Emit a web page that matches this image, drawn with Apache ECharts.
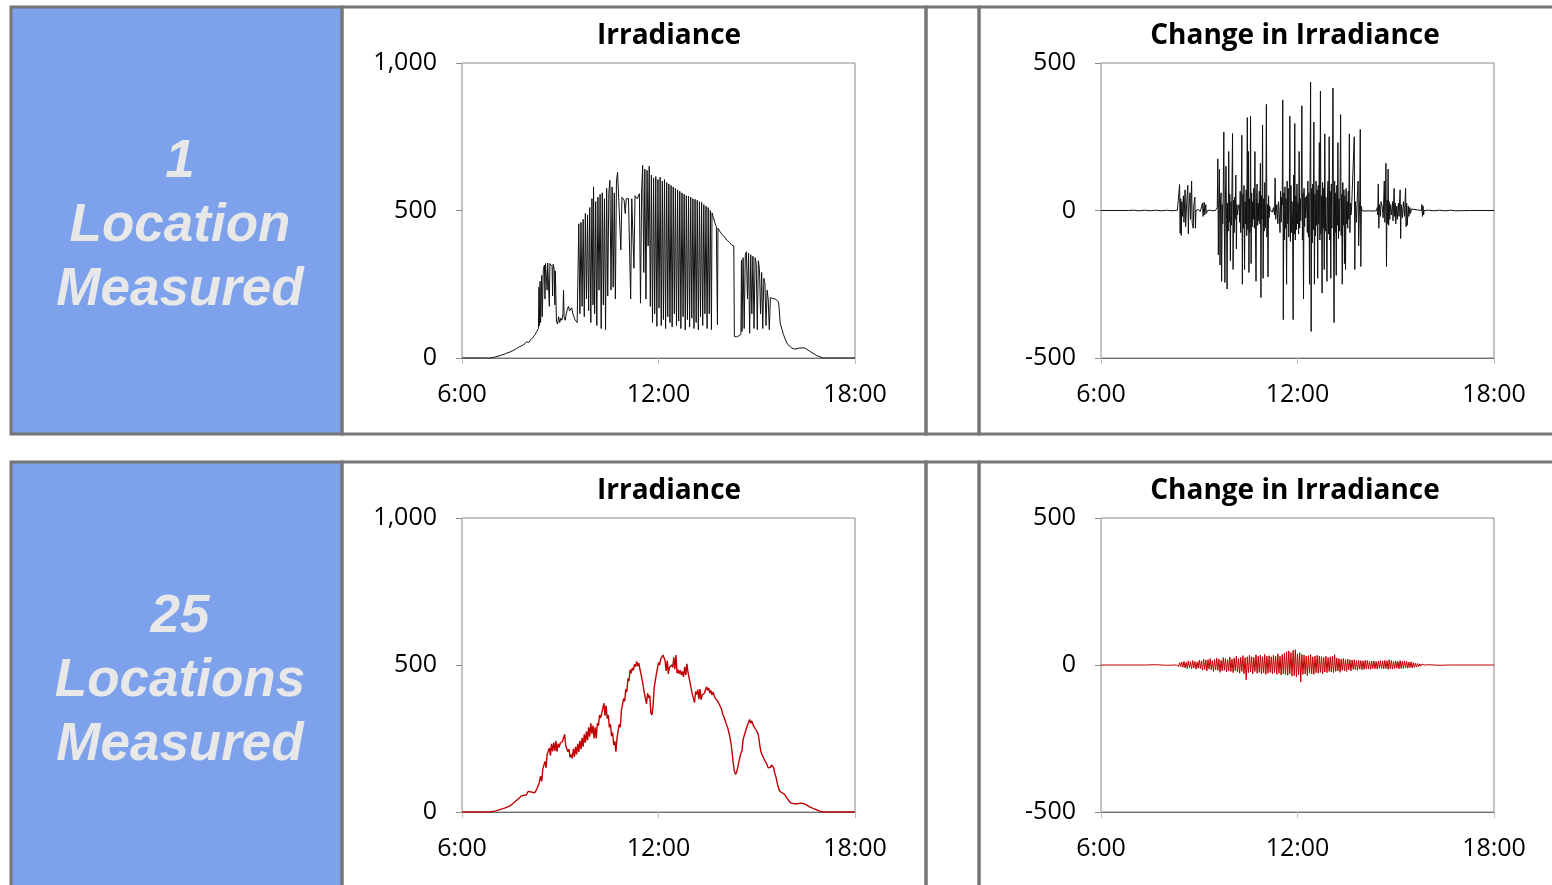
<!DOCTYPE html>
<html><head><meta charset="utf-8">
<script src="https://cdn.jsdelivr.net/npm/echarts/dist/echarts.min.js"></script>
<style>html,body{margin:0;padding:0;background:#fff;overflow:hidden}#c{width:1552px;height:885px}</style>
</head><body><div id="c"></div>
<script>
// ---------- texts / tick labels ----------
const xTickLabels = ['6:00', '12:00', '18:00'];          // at 360, 720, 1080 minutes
const irrTickLabels = ['0', '500', '1,000'];
const changeTickLabels = ['-500', '0', '500'];
const rowLabels = ['1\nLocation\nMeasured', '25\nLocations\nMeasured'];
const panelTitles = ['Irradiance', 'Change in Irradiance'];

// ---------- data: [minute of day, W/m2] ----------
const irrOneLocation = [
[360,0],[400,0],[412,0],[420,3],[430,8],[440,15],[450,22],[460,32],[465,38],[470,42],[475,48],[478,55],[482,52],[486,62],[490,70],[494,80],[497,90],[500,100],
[501,240],[502,110],[503,260],[504,120],[506,280],[507,140],[509,300],[511,315],[512,200],[513,320],[515,325],[516,230],[517,322],[519,318],[520,175],[521,320],[523,315],[525,310],[526,210],[527,318],[529,300],[530,180],[531,295],
[533,125],[535,115],[537,140],[539,120],[541,135],[543,128],[545,150],[546,230],[547,140],[549,128],[551,150],[553,165],[555,175],[557,160],[559,155],[561,170],[563,150],[565,140],[567,130],[569,125],[571,120],[573,118],
[574,455],[576,150],[578,460],[580,175],[582,470],[584,140],[586,490],[588,200],[590,485],[592,160],[594,510],[596,120],[598,540],[600,180],[601,580],[603,150],[605,530],[607,110],[609,545],[611,230],[613,555],[615,100],[617,560],[619,180],[621,540],[623,96],[625,575],[627,210],[629,560],[631,602],[633,230],[635,580],[637,240],[639,560],[641,200],[643,600],[645,630],
[647,545],[649,540],[651,366],[653,545],[655,550],[657,535],[659,490],[661,540],[663,545],[665,540],[667,545],[669,200],[671,540],[673,545],[675,304],[677,550],[679,545],[681,540],[683,545],[685,557],[687,186],[689,560],
[691,653],[693,290],[695,640],[697,200],[699,636],[701,380],[703,650],[705,175],[707,620],[709,120],[711,610],[713,150],[715,615],[717,107],[719,605],[721,170],[723,613],[725,110],[727,600],[729,130],[731,605],[733,100],[735,595],[737,140],[739,590],[741,120],[743,585],[745,105],[747,580],[749,150],[751,575],[753,110],[755,570],[757,125],[759,565],[761,100],[763,560],[765,140],[767,555],[769,95],[771,550],[773,130],[775,548],[777,105],[779,545],[781,135],[783,540],[785,100],[787,538],[789,120],[791,535],[793,95],[795,530],[797,140],[799,528],[801,110],[803,520],[805,150],[807,515],[809,100],[811,510],[813,150],[815,500],[817,96],[818,492],
[820,480],[823,460],[826,445],[828,113],[829,440],[832,430],[836,420],[840,412],[845,400],[850,392],[854,383],[857,377],[858,380],
[859,73],[861,68],[863,72],[865,70],[867,75],[869,72],[871,80],
[872,332],[873,90],[875,340],[877,100],[879,350],[881,360],[883,200],[885,355],[887,84],[889,350],[891,150],[893,345],
[895,100],[897,340],[899,320],[901,96],[903,330],[905,300],[907,150],[909,290],[911,100],[913,270],[915,253],[917,110],
[919,230],[921,200],[923,96],[925,205],[927,200],[929,202],[931,203],[934,200],[937,200],[940,190],
[943,118],[949,79],[955,51],[960,40],[964,34],[970,30],[979,34],[988,34],[998,22],[1010,8],[1022,0],[1080,0]
];

const changeOneLocation = [
[360,0],[410,0],[420,1],[430,-1],[440,1],[450,-1],[460,1],[470,-1],[480,1],[490,-1],[500,1],
[503,0],[504,88],[505,-77],[506,40],[507,-85],[508,30],[509,-20],[511,50],[512,-40],[514,70],[515,-55],[517,25],[519,85],[520,-79],[521,10],[523,60],[524,-30],[526,100],[527,-40],[529,-60],[530,20],[532,45],[533,-60],[534,0],[538,3],[542,-3],[546,25],[547,-20],[549,28],[550,-15],[552,20],[553,-10],[555,0],[560,1],[565,-1],[570,1],
[573,10],[574,175],[575,-150],[576,30],[577,140],[578,-185],[579,40],[580,60],[581,-240],[582,20],[583,-45],[584,75],[585,266],[586,-60],[587,-244],[588,40],[589,150],[590,-30],[591,-266],[592,25],[593,-70],[594,200],[595,-40],[596,55],[597,-170],[598,30],[599,-50],[600,90],[601,261],[602,-200],[603,35],[604,-75],[605,45],[606,-30],[607,120],[608,-130],[609,20],[610,-15],[611,5],[612,0],
[613,20],[614,-40],[615,65],[616,-75],[617,45],[618,255],[619,-250],[620,55],[621,-60],[622,85],[623,-200],[624,30],[625,-45],[626,70],[627,-85],[628,315],[629,-65],[630,200],[631,-210],[632,40],[633,-75],[634,320],[635,-180],[636,60],[637,-55],[638,30],[639,-30],[640,75],[641,-60],[642,200],[643,-80],[644,-240],[645,45],[646,90],[647,-50],[648,25],[649,-35],[650,65],[651,-45],[652,160],[653,-295],[654,50],[655,-30],[656,290],[657,-230],[658,40],[659,-70],[660,95],[661,-60],[662,30],[663,360],[664,-90],[665,20],[666,-225],[667,50],[668,-25],[669,15],
[670,0],[672,5],[674,-5],
[676,10],[678,-15],[679,110],[680,-30],[682,20],[684,-45],[685,30],[686,10],[688,-75],[689,65],[690,-40],[691,45],[692,20],[693,375],[694,-370],[695,60],[696,-100],[697,80],[698,-60],[699,40],[700,-250],[701,100],[702,-45],[703,75],[704,-90],[705,50],[706,320],[707,-105],[708,85],[709,-75],[710,30],[711,-50],[712,-370],[713,120],[714,-80],[715,295],[716,-100],[717,50],[718,-65],[719,90],[720,-45],[721,25],[722,-80],[723,200],[724,-60],[725,40],[726,-35],[727,70],[728,355],[729,-100],[730,60],[731,-300],[732,75],[733,-55],[734,45],[735,-25],[736,15],
[737,50],[738,-75],[739,100],[740,-90],[741,60],[742,-250],[743,130],[744,435],[745,-410],[746,75],[747,-110],[748,90],[749,-65],[750,300],[751,-250],[752,55],[753,-85],[754,100],[755,-50],[756,70],[757,-230],[758,85],[759,-45],[760,230],[761,-100],[762,405],[763,-80],[764,50],[765,-280],[766,95],[767,-60],[768,75],[769,-200],[770,260],[771,-70],[772,45],[773,-85],[774,-240],[775,60],
[776,100],[777,-80],[778,250],[779,-100],[780,65],[781,-230],[782,90],[783,-60],[784,120],[785,415],[786,-90],[787,-380],[788,100],[789,-75],[790,60],[791,-220],[792,85],[793,-50],[794,230],[795,-95],[796,40],[797,-70],[798,80],[799,325],[800,-85],[801,55],[802,-250],[803,95],[804,-50],[805,70],[806,-180],[807,50],[808,-200],[809,75],[810,-45],[811,30],[812,-60],[813,65],[814,-30],[815,260],[816,-75],[817,25],[818,-15],[819,5],
[820,0],[822,5],[824,250],[825,-200],[826,30],[828,-40],[829,20],[831,100],[832,-120],[834,40],[835,275],[836,-190],[837,15],[838,0],[842,-2],[850,-1],[860,-2],
[865,0],[866,10],[867,-15],[868,90],[869,-60],[870,20],[872,-20],[873,30],[875,15],[877,-25],[879,100],[880,-40],[881,25],[882,160],[883,-190],[884,35],[885,-45],[886,140],[887,-50],[888,30],[889,-30],[890,20],[892,-15],[894,30],[895,-35],[897,75],[898,-20],[899,25],[900,-45],[902,15],[903,-30],[905,25],[906,-20],[908,70],[909,-95],[910,20],[912,-25],[914,30],[916,-20],[918,75],[919,-55],[920,25],[921,-50],[923,15],[924,-20],[926,10],[927,-10],[929,5],[931,0],
[947,0],[948,20],[949,-20],[950,15],[951,-15],[952,0],[960,1],[970,-1],[980,1],[990,-1],[1000,1],[1010,-1],[1035,0],[1080,0]
];

const irrManyLocations = [
[360,0],[410,0],[420,3],[429,8],[438,13],[447,20],[453,28],[459,38],[464,46],[469,55],[474,57],[478,58],[481,70],[483,75],[487,68],[490,66],[493,65],[497,78],[501,95],
[504,122],[506,104],[508,146],[510,146],[512,172],[514,150],[516,196],[518,190],[520,218],[522,192],[524,232],[526,206],[528,236],[530,208],[532,242],[534,205],[536,232],[538,220],[540,234],[542,228],[544,240],[546,236],[548,264],[550,226],[552,230],[554,205],[556,214],[558,186],[560,196],[562,182],[564,215],[566,188],[568,222],[570,196],[572,232],[574,204],[576,242],[578,214],[580,252],[582,222],[584,264],[586,236],[588,274],[590,244],[592,288],[594,256],[596,302],[598,266],[600,294],[602,250],[604,288],[606,250],[608,302],[610,294],[612,330],[614,320],[616,336],[618,334],[620,370],[622,328],[624,362],[626,318],[628,330],[630,288],[632,298],[634,258],[636,270],[638,228],[640,240],[642,205],[644,252],[646,254],[648,298],[650,288],[652,344],[654,348],[656,386],[658,376],[660,418],[662,408],[664,454],[666,446],[668,484],[670,472],[672,490],[674,482],[676,502],[678,494],[680,512],[682,496],[684,506],[686,486],[688,490],[690,450],[692,452],[694,406],[696,408],[698,368],[700,404],[702,388],[704,396],[706,338],[708,330],[710,360],[712,422],[714,420],[716,468],[718,466],[720,508],[722,500],[724,520],[726,516],[728,534],[730,528],[732,516],[734,480],[736,514],[738,470],[740,492],[742,486],[744,500],[746,492],[748,526],[750,486],[752,534],[754,472],[756,484],[758,470],[760,482],[762,466],[764,478],[766,460],[768,494],[770,466],[772,504],[774,476],[776,482],[778,438],[780,444],[782,400],[784,406],[786,372],[788,410],[790,400],[792,416],[794,384],[796,418],[798,382],[800,398],[802,392],[804,404],[806,402],[808,426],[810,414],[812,422],[814,404],[816,414],[818,398],[820,408],[823,390],[826,393],[829,375],[832,370],[835,352],[838,332],[841,318],[844,300],[847,285],[850,262],[853,232],[855,200],[857,165],[859,140],[861,128],[863,135],[865,150],[867,168],[869,185],[871,200],[873,208],[875,246],[877,245],[879,272],[881,274],[883,296],[885,298],[887,315],[889,302],[891,310],[893,297],[895,298],[897,284],[899,285],[901,272],[903,262],[905,235],[907,210],[909,198],[911,190],[913,182],[915,175],[917,170],[919,160],[921,150],[923,145],[925,152],[927,160],[929,165],[931,150],[933,132],[935,120],[938,95],[941,75],[944,68],[947,64],[951,60],[955,48],[959,38],[963,30],[969,28],[975,28],[981,30],[987,28],[991,24],[996,18],[1002,13],[1009,8],[1015,3],[1021,0],[1080,0]
];

const changeManyLocations = [
[360,0],[440,0],[460,1],[480,-1],[498,0],
[500,3],[502,-5],[504,8],[506,-6],[508,10],[510,-8],[512,12],[514,-10],[516,9],[518,-12],[520,14],[522,-9],[524,11],[526,-13],[528,15],[530,-10],[532,12],[534,-14],[536,10],[538,-11],[540,16],[542,-12],[544,14],[546,-18],[548,20],[550,-15],[552,17],[554,-20],[556,18],[558,-14],[560,22],[562,-16],[564,15],[566,-22],[568,19],[570,-17],[572,24],[574,-18],[576,20],[578,-25],[580,16],[582,-20],[584,25],[586,-18],[588,22],[590,-24],[592,18],[594,-20],[596,27],[598,-22],[600,20],[602,-26],[604,24],[606,-20],[608,30],[610,-24],[612,22],[614,-28],[616,26],[618,-22],[620,32],[622,-30],[624,25],[626,-50],[628,28],[630,-26],[632,33],[634,-24],[636,28],[638,-30],[640,26],[642,-22],[644,35],[646,-28],[648,30],[650,-25],[652,34],[654,-30],[656,28],[658,-26],[660,36],[662,-32],[664,30],[666,-28],[668,32],[670,-25],[672,28],[674,-30],[676,34],[678,-26],[680,30],[682,-32],[684,38],[686,-28],[688,30],[690,-34],[692,36],[694,-30],[696,40],[698,-32],[700,45],[702,-35],[704,48],[706,-30],[708,42],[710,-38],[712,50],[714,-36],[716,52],[718,-40],[720,38],[722,-34],[724,42],[726,-58],[728,36],[730,-32],[732,34],[734,-30],[736,30],[738,-36],[740,32],[742,-28],[744,35],[746,-30],[748,28],[750,-32],[752,30],[754,-26],[756,33],[758,-28],[760,30],[762,-25],[764,28],[766,-30],[768,26],[770,-24],[772,30],[774,-26],[776,25],[778,-22],[780,28],[782,-24],[784,30],[786,-26],[788,35],[790,-22],[792,24],[794,-20],[796,22],[798,-25],[800,20],[802,-18],[804,22],[806,-20],[808,18],[810,-22],[812,20],[814,-16],[816,18],[818,-20],[820,17],[822,-15],[824,18],[826,-16],[828,15],[830,-18],[832,16],[834,-14],[836,15],[838,-16],[840,14],[842,-15],[844,16],[846,-13],[848,15],[850,-14],[852,12],[854,-15],[856,13],[858,-12],[860,14],[862,-13],[864,12],[866,-14],[868,13],[870,-11],[872,15],[874,-12],[876,14],[878,-13],[880,16],[882,-12],[884,14],[886,-15],[888,18],[890,-13],[892,15],[894,-14],[896,12],[898,-12],[900,14],[902,-11],[904,12],[906,-13],[908,15],[910,-12],[912,13],[914,-12],[916,14],[918,-10],[920,12],[922,-11],[924,10],[926,-9],[928,11],[930,-10],[932,8],[934,-8],[936,6],[938,-7],[940,5],[942,-5],[944,4],[946,-4],[948,3],[950,-3],[952,0],
[960,1],[980,-1],[1000,0],[1080,0]
];

// ---------- chart ----------
const chart = echarts.init(document.getElementById('c'), null, {renderer: 'canvas'});
const FONT = 'Open Sans';
const grids = [
  {left: 462, top: 63, width: 393, height: 295},
  {left: 1101, top: 63, width: 393, height: 295},
  {left: 462, top: 518, width: 393, height: 294},
  {left: 1101, top: 518, width: 393, height: 294}
];
grids.forEach(g => { g.show = true; g.borderColor = '#8a8a8a'; g.borderWidth = 1; g.backgroundColor = 'transparent'; g.containLabel = false; });

function xAxis(gi) {
  return {
    type: 'value', gridIndex: gi, min: 360, max: 1080, interval: 360,
    axisLine: {show: true, onZero: false, lineStyle: {color: '#6e6e6e', width: 1}},
    axisTick: {show: true, length: 6, lineStyle: {color: '#bdbdbd'}},
    axisLabel: {color: '#000', fontSize: 25, fontFamily: FONT, margin: 24,
      formatter: v => xTickLabels[Math.round((v - 360) / 360)]},
    splitLine: {show: false}
  };
}
function yAxis(gi, isChange) {
  return {
    type: 'value', gridIndex: gi,
    min: isChange ? -500 : 0, max: isChange ? 500 : 1000, interval: 500,
    axisLine: {show: true, onZero: false, lineStyle: {color: '#c4c4c4', width: 1}},
    axisTick: {show: true, length: 6, lineStyle: {color: '#8a8a8a'}},
    axisLabel: {color: '#000', fontSize: 25, fontFamily: FONT, margin: 25, padding: [4, 0, 0, 0],
      formatter: v => isChange ? changeTickLabels[Math.round((v + 500) / 500)] : irrTickLabels[Math.round(v / 500)]},
    splitLine: {show: false}
  };
}
function lineSeries(gi, data, color, width) {
  return {
    type: 'line', xAxisIndex: gi, yAxisIndex: gi, data: data,
    showSymbol: false, symbol: 'none', animation: false, clip: true,
    lineStyle: {color: color, width: width}, z: 3
  };
}

const CELL = '#767676';
const graphics = [];
const rows = [[7, 427], [462, 440]];
const cols = [[11, 331], [342, 584], [926, 53], [979, 600]];
rows.forEach((r, ri) => {
  cols.forEach((c, ci) => {
    graphics.push({type: 'rect', z: ci === 0 ? 1 : 2, shape: {x: c[0], y: r[0], width: c[1], height: r[1]},
      style: {fill: ci === 0 ? '#7da2eb' : 'none', stroke: CELL, lineWidth: 3}});
  });
  graphics.push({type: 'text', z: 5, x: 180, y: ri === 0 ? 226 : 681,
    style: {text: rowLabels[ri], fill: '#e8e8e8', fontSize: 53, fontWeight: 'bold', fontStyle: 'italic',
      fontFamily: 'Liberation Sans', lineHeight: 64, textAlign: 'center', textVerticalAlign: 'middle'}});
  [669, 1295].forEach((cx, k) => {
    graphics.push({type: 'text', z: 5, x: cx, y: ri === 0 ? 36 : 491,
      style: {text: panelTitles[k], fill: '#000', fontSize: 28, fontWeight: 'bold', fontFamily: FONT,
        textAlign: 'center', textVerticalAlign: 'middle'}});
  });
});

chart.setOption({
  animation: false,
  backgroundColor: '#ffffff',
  grid: grids,
  xAxis: [xAxis(0), xAxis(1), xAxis(2), xAxis(3)],
  yAxis: [yAxis(0, false), yAxis(1, true), yAxis(2, false), yAxis(3, true)],
  series: [
    lineSeries(0, irrOneLocation, '#111111', 1),
    lineSeries(1, changeOneLocation, '#111111', 1),
    lineSeries(2, irrManyLocations, '#c00000', 1.4),
    lineSeries(3, changeManyLocations, '#c00000', 1)
  ],
  graphic: graphics
});
</script>
</body></html>
